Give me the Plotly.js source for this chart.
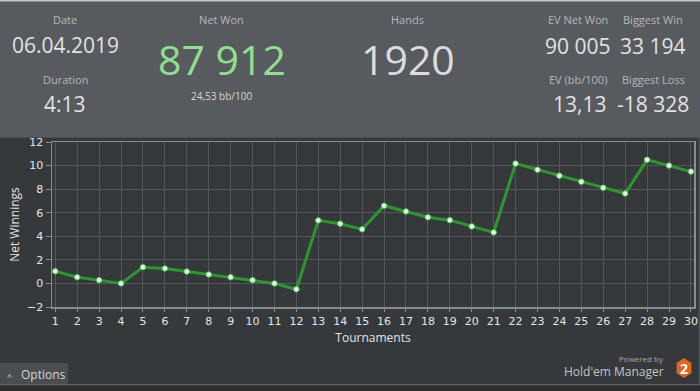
<!DOCTYPE html>
<html>
<head>
<meta charset="utf-8">
<script src="https://cdn.plot.ly/plotly-3.0.1.min.js"></script>
<style>html,body{margin:0;padding:0;background:#36393c;overflow:hidden}#chart{width:700px;height:391px}</style>
</head>
<body>
<div id="chart"></div>
<script>
// ---- data ----
const tournaments = [1,2,3,4,5,6,7,8,9,10,11,12,13,14,15,16,17,18,19,20,21,22,23,24,25,26,27,28,29,30];
const netWinnings = [1.03,0.53,0.28,0.0,1.38,1.27,1.01,0.76,0.53,0.28,0.0,-0.5,5.35,5.07,4.59,6.59,6.11,5.61,5.37,4.84,4.33,10.17,9.65,9.14,8.63,8.12,7.63,10.5,10.0,9.49];
const xTickVals = tournaments;
const yTickVals = [-2,0,2,4,6,8,10,12];

const statLabels = ["Date","Duration","Net Won","Hands","EV Net Won","Biggest Win","EV (bb/100)","Biggest Loss"];
const statValues = ["06.04.2019","4:13","87 912","1920","90 005","33 194","13,13","-18 328"];
const netWonRate = "24,53 bb/100";

// ---- geometry helpers (pixel -> paper) ----
const W = 700, H = 391, ML = 52, MR = 6, MT = 142, MB = 84;
const PW = W - ML - MR, PH = H - MT - MB;
const fx = px => (px - ML) / PW;
const fy = py => (H - MB - py) / PH;

const HEAD = "'Open Sans','Noto Sans',sans-serif";
const AX = "'DejaVu Sans',Verdana,sans-serif";

function ann(text, px, py, size, color, font, extra) {
  return Object.assign({text: text, xref:'paper', yref:'paper', x: fx(px), y: fy(py),
    xanchor:'center', yanchor:'middle', showarrow:false,
    font:{family: font || HEAD, size: size, color: color}}, extra || {});
}
const LBL = '#b4b8bc', VAL = '#e2e2e2';
const annotations = [
  ann(statLabels[0], 65, 20, 11, LBL),
  ann(statValues[0], 65, 45, 21, VAL),
  ann(statLabels[1], 65, 79, 11, LBL),
  ann(statValues[1], 65, 104, 21, VAL),
  ann(statLabels[2], 222, 20, 11, LBL),
  ann(statValues[2], 222, 59, 41, '#8ee08e'),
  ann(netWonRate, 222, 96, 10, '#d6d6d6'),
  ann(statLabels[3], 408, 20, 11, LBL),
  ann(statValues[3], 408, 59, 41, '#dcdcdc'),
  ann(statLabels[4], 578, 20, 11, LBL),
  ann(statLabels[5], 653, 20, 11, LBL),
  ann(statValues[4], 578, 46, 21, VAL),
  ann(statValues[5], 653, 46, 21, VAL),
  ann(statLabels[6], 578, 79, 11, LBL),
  ann(statLabels[7], 653, 79, 11, LBL),
  ann(statValues[6], 579, 104, 21, VAL),
  ann(statValues[7], 653, 104, 21, VAL),
  ann('^', 9, 376, 9, '#cfcfcf'),
  ann('Options', 43, 374, 12, '#d4d4d4'),
  ann('Powered by', 648, 358, 8, '#a8a8a8', HEAD, {xanchor:'right', x: fx(666)}),
  ann("Hold'em Manager", 612, 371, 12, '#c4c4c4', HEAD, {xanchor:'right', x: fx(666)}),
  ann('<b>2</b>', 684, 368, 14, '#ffffff', HEAD)
];

function rect(x0,y0,x1,y1,fill,extra){
  return Object.assign({type:'rect', xref:'paper', yref:'paper', x0:fx(x0), x1:fx(x1), y0:fy(y0), y1:fy(y1),
    fillcolor: fill, line:{width:0}, layer:'below'}, extra||{});
}
// hexagon for logo
const hx = 684, hy = 368, hr = 10;
let hp = '';
for (let i=0;i<6;i++){ const a = Math.PI/3*i + Math.PI/6; hp += (i?'L':'M') + fx(hx + hr*0.85*Math.cos(a)) + ',' + fy(hy + hr*Math.sin(a)); }
hp += 'Z';

const shapes = [
  rect(0,0,700,137,'#575a5e'),
  rect(0,0,700,1.5,'#cbc6c0'),
  rect(0,137,700,138,'#4a4d50'),
  rect(0,363,68,384,'#4b4e51'),
  rect(0,384,700,385.5,'#5e6164'),
  rect(0,385.5,700,391,'#2b2d2f'),
  rect(698.5,137,700,385,'#505356'),
  {type:'path', xref:'paper', yref:'paper', path: hp, fillcolor:'#e0661f', line:{width:0}, layer:'above'}
];

const trace = {
  x: tournaments, y: netWinnings, type:'scatter', mode:'lines+markers',
  line:{color:'#2c972c', width:3},
  marker:{size:5.5, color:'#e6ffe6', line:{color:'#4fbf4f', width:1}},
  hoverinfo:'x+y'
};

const layout = {
  width: W, height: H,
  margin:{l:ML, r:MR, t:MT, b:MB, pad:0},
  paper_bgcolor:'#36393c', plot_bgcolor:'#36393c',
  showlegend:false,
  xaxis:{range:[0.85,30.14], tickvals:xTickVals, ticktext:xTickVals.map(String), showgrid:true, gridcolor:'#54575a', gridwidth:1,
    zeroline:false, showline:true, mirror:true, linecolor:'#8a8c8e', linewidth:1.5,
    ticks:'outside', ticklen:3, tickcolor:'#8a8c8e', tickfont:{family:AX, size:11, color:'#e4e4e4'},
    title:{text:'Tournaments', standoff:7, font:{family:HEAD, size:12, color:'#e4e4e4'}}, automargin:false, fixedrange:true},
  yaxis:{range:[-2,12], tickvals:yTickVals, showgrid:true, gridcolor:'#54575a', gridwidth:1,
    zeroline:false, showline:true, mirror:true, linecolor:'#8a8c8e', linewidth:1.5,
    ticks:'outside', ticklen:5, tickcolor:'#8a8c8e', tickfont:{family:AX, size:11, color:'#e4e4e4'},
    title:{text:'Net Winnings', standoff:5, font:{family:HEAD, size:12, color:'#e4e4e4'}}, automargin:false, fixedrange:true},
  shapes: shapes,
  annotations: annotations
};

Plotly.newPlot('chart', [trace], layout, {displayModeBar:false, staticPlot:true});
</script>
</body>
</html>
